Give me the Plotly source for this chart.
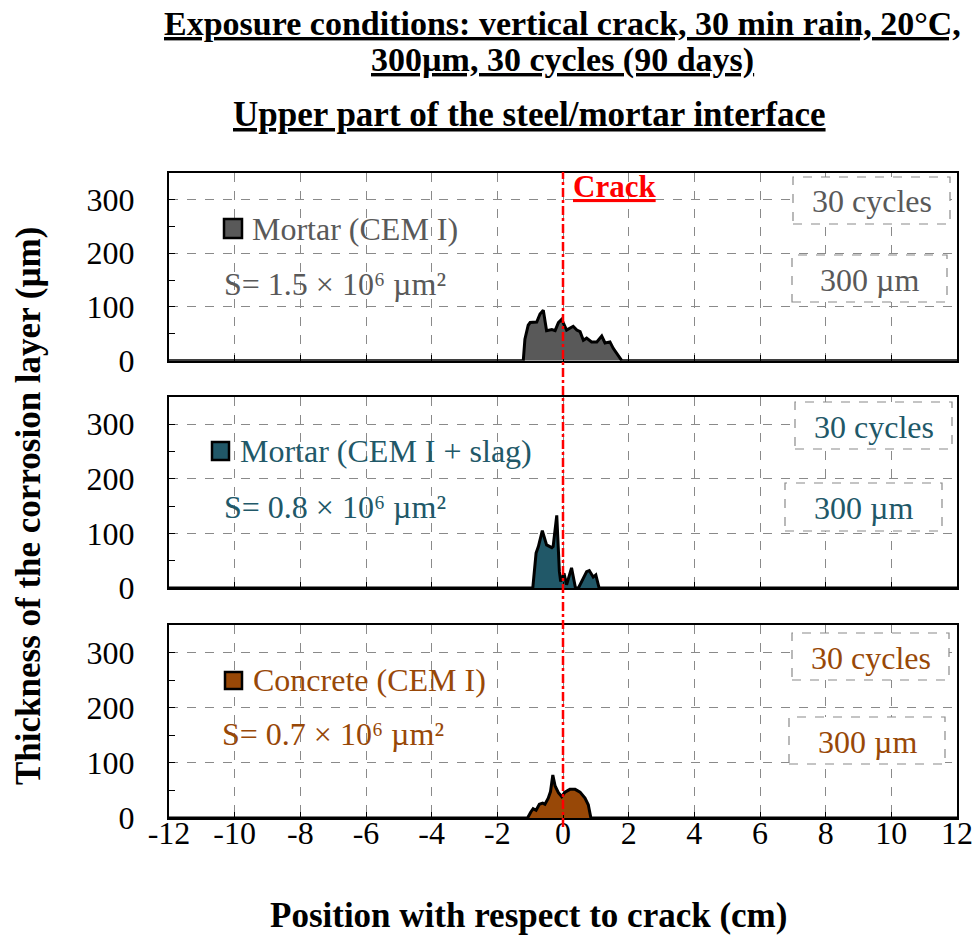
import plotly.graph_objects as go

# ---------------- data ----------------
x_mortar = [-12, -1.21, -1.16, -1.06, -1.0, -0.8, -0.7, -0.6, -0.5, -0.34, -0.24, -0.14, -0.04, 0.04, 0.11,
            0.31, 0.42, 0.52, 0.62, 0.72, 0.87, 1.03, 1.18, 1.28, 1.43, 1.53, 1.64, 1.79, 12]
y_mortar = [0, 0, 40, 66, 71, 72, 87, 94, 56, 58, 56, 71, 77, 66, 57,
            64, 57, 54, 38, 42, 35, 35, 46, 33, 35, 23, 14, 0, 0]

x_slag = [-12, -0.92, -0.82, -0.75, -0.63, -0.50, -0.34, -0.30, -0.19, -0.11, -0.07, -0.01, 0.03, 0.11,
          0.26, 0.38, 0.47, 0.72, 0.80, 0.92, 1.0, 1.1, 12]
y_slag = [0, 0, 64, 76, 105, 79, 74, 76, 133, 30, 12, 21, 27, 6,
          37, 0, 0, 30, 32, 20, 24, 0, 0]

x_concrete = [-12, -1.08, -0.98, -0.91, -0.82, -0.72, -0.62, -0.55, -0.45, -0.38, -0.31, -0.24, -0.14,
              -0.04, 0.06, 0.21, 0.37, 0.52, 0.67, 0.77, 0.85, 12]
y_concrete = [0, 0, 11, 17, 14, 25, 27, 25, 36, 48, 78, 58, 46,
              39, 47, 52, 52, 47, 36, 24, 0, 0]

series_names = ["Mortar (CEM I)", "Mortar (CEM I + slag)", "Concrete (CEM I)"]
surface_labels = ["S= 1.5 × 10⁶ µm²", "S= 0.8 × 10⁶ µm²", "S= 0.7 × 10⁶ µm²"]
x_ticks = list(range(-12, 13, 2))
x_ticktext = [str(v) for v in x_ticks]
y_ticks = [0, 100, 200, 300]

# ---------------- styling ----------------
FONT = "Liberation Serif"
fills = ["#595959", "#215868", "#984807"]
text_cols = ["#595959", "#215868", "#984807"]
GRID = "#8a8a8a"

W, H = 978, 936
ML, MR, MT, MB = 169, 21, 172, 118
PW = W - ML - MR
PH = H - MT - MB


def px(x):
    return (x - ML) / PW


def py(y):
    return (H - MB - y) / PH


# panel pixel extents (top, bottom)
panels = [(172.7, 360.7), (397, 588), (625, 818)]

fig = go.Figure()
xs = [x_mortar, x_slag, x_concrete]
ys = [y_mortar, y_slag, y_concrete]
for i in range(3):
    sfx = "" if i == 0 else str(i + 1)
    fig.add_trace(go.Scatter(
        x=xs[i], y=ys[i], mode="lines", fill="tozeroy", fillcolor=fills[i],
        line=dict(color="black", width=3), xaxis="x" + sfx, yaxis="y" + sfx,
        showlegend=False, hoverinfo="skip"))

layout = dict(width=W, height=H, margin=dict(l=ML, r=MR, t=MT, b=MB, autoexpand=False),
              paper_bgcolor="white", plot_bgcolor="white", showlegend=False,
              font=dict(family=FONT, size=32, color="black"))

for i, (top, bot) in enumerate(panels):
    sfx = "" if i == 0 else str(i + 1)
    layout["xaxis" + sfx] = dict(
        domain=[0, 1], anchor="y" + sfx, range=[-12, 12], tickvals=x_ticks, ticktext=x_ticktext,
        showticklabels=(i == 2), ticks="inside", ticklen=6, tickcolor="black", tickwidth=1.2,
        ticklabelstandoff=-14, automargin=False,
        showgrid=True, gridcolor=GRID, griddash="dash", gridwidth=1.2, zeroline=False,
        showline=True, linecolor="black", linewidth=2, mirror=True,
        tickfont=dict(family=FONT, size=32, color="black"))
    layout["yaxis" + sfx] = dict(
        domain=[py(bot), py(top)], anchor="x" + sfx, range=[0, 350], tickvals=y_ticks,
        ticks="inside", ticklen=6, tickcolor="black", tickwidth=1.2, automargin=False,
        minor=dict(tickvals=[50, 150, 250], ticks="inside", ticklen=6, tickcolor="black", tickwidth=1.2,
                   showgrid=False),
        showgrid=True, gridcolor=GRID, griddash="dash", gridwidth=1.2, zeroline=False,
        showline=True, linecolor="black", linewidth=2, mirror=True, ticklabelstandoff=26,
        tickfont=dict(family=FONT, size=32, color="black"))

fig.update_layout(**layout)

shapes = []
annotations = []

# per-panel decorations (pixel positions)
legend_sq = [(224, 219, 242, 238), (212, 442, 229, 460), (225, 672, 242, 689)]
legend_txt = [(250, 229), (238, 451), (251, 680)]
s_txt = [(222, 284), (222, 507), (220, 734)]
box_cyc = [(793, 177, 950, 224), (795, 402, 952, 449), (792, 633, 949, 680)]
box_um = [(792, 255, 947, 302), (785, 483, 942, 531), (789, 717, 945, 764)]

for i in range(3):
    x0, y0, x1, y1 = legend_sq[i]
    shapes.append(dict(type="rect", xref="paper", yref="paper", x0=px(x0), x1=px(x1), y0=py(y1), y1=py(y0),
                       line=dict(color="black", width=2.5), fillcolor=fills[i], layer="above"))
    annotations.append(dict(xref="paper", yref="paper", x=px(legend_txt[i][0]), y=py(legend_txt[i][1]),
                            xanchor="left", yanchor="middle", showarrow=False, text=series_names[i],
                            font=dict(family=FONT, size=32, color=text_cols[i])))
    annotations.append(dict(xref="paper", yref="paper", x=px(s_txt[i][0]), y=py(s_txt[i][1]),
                            xanchor="left", yanchor="middle", showarrow=False, text=surface_labels[i],
                            font=dict(family=FONT, size=32, color=text_cols[i])))
    for (bx0, by0, bx1, by1), label in [(box_cyc[i], "30 cycles"), (box_um[i], "300 µm")]:
        shapes.append(dict(type="rect", xref="paper", yref="paper", x0=px(bx0), x1=px(bx1),
                           y0=py(by1), y1=py(by0), line=dict(color=GRID, width=1.2, dash="dash"),
                           fillcolor="white", layer="above"))
        annotations.append(dict(xref="paper", yref="paper", x=px((bx0 + bx1) / 2), y=py((by0 + by1) / 2 + 1),
                                xanchor="center", yanchor="middle", showarrow=False, text=label,
                                font=dict(family=FONT, size=32, color=text_cols[i])))

# crack line
shapes.append(dict(type="line", xref="x", yref="paper", x0=0, x1=0, y0=py(827), y1=py(172),
                   line=dict(color="#ff0000", width=2.5, dash="dashdot"), layer="above"))
annotations.append(dict(xref="paper", yref="paper", x=px(571), y=py(186), xanchor="left", yanchor="middle",
                        showarrow=False, text="<b><u>Crack</u></b>",
                        font=dict(family=FONT, size=31, color="#ff0000")))

# titles
annotations.append(dict(xref="paper", yref="paper", x=px(562.5), y=py(23), xanchor="center", yanchor="middle",
                        showarrow=False,
                        text="<b><u>Exposure conditions: vertical crack, 30 min rain, 20°C,</u></b>",
                        font=dict(family=FONT, size=34, color="black")))
annotations.append(dict(xref="paper", yref="paper", x=px(562.5), y=py(60), xanchor="center", yanchor="middle",
                        showarrow=False, text="<b><u>300µm, 30 cycles (90 days)</u></b>",
                        font=dict(family=FONT, size=34, color="black")))
annotations.append(dict(xref="paper", yref="paper", x=px(529), y=py(114), xanchor="center", yanchor="middle",
                        showarrow=False, text="<b><u>Upper part of the steel/mortar interface</u></b>",
                        font=dict(family=FONT, size=35, color="black")))
# axis titles
annotations.append(dict(xref="paper", yref="paper", x=px(528.5), y=py(915), xanchor="center", yanchor="middle",
                        showarrow=False, text="<b>Position with respect to crack (cm)</b>",
                        font=dict(family=FONT, size=35, color="black")))
annotations.append(dict(xref="paper", yref="paper", x=px(28), y=py(506), xanchor="center", yanchor="middle",
                        showarrow=False, textangle=-90, text="<b>Thickness of the corrosion layer (µm)</b>",
                        font=dict(family=FONT, size=35, color="black")))

fig.update_layout(shapes=shapes, annotations=annotations)
fig.write_html("out.html", config={"displayModeBar": False},
               post_script="document.body.style.margin='0';document.body.style.padding='0';")
